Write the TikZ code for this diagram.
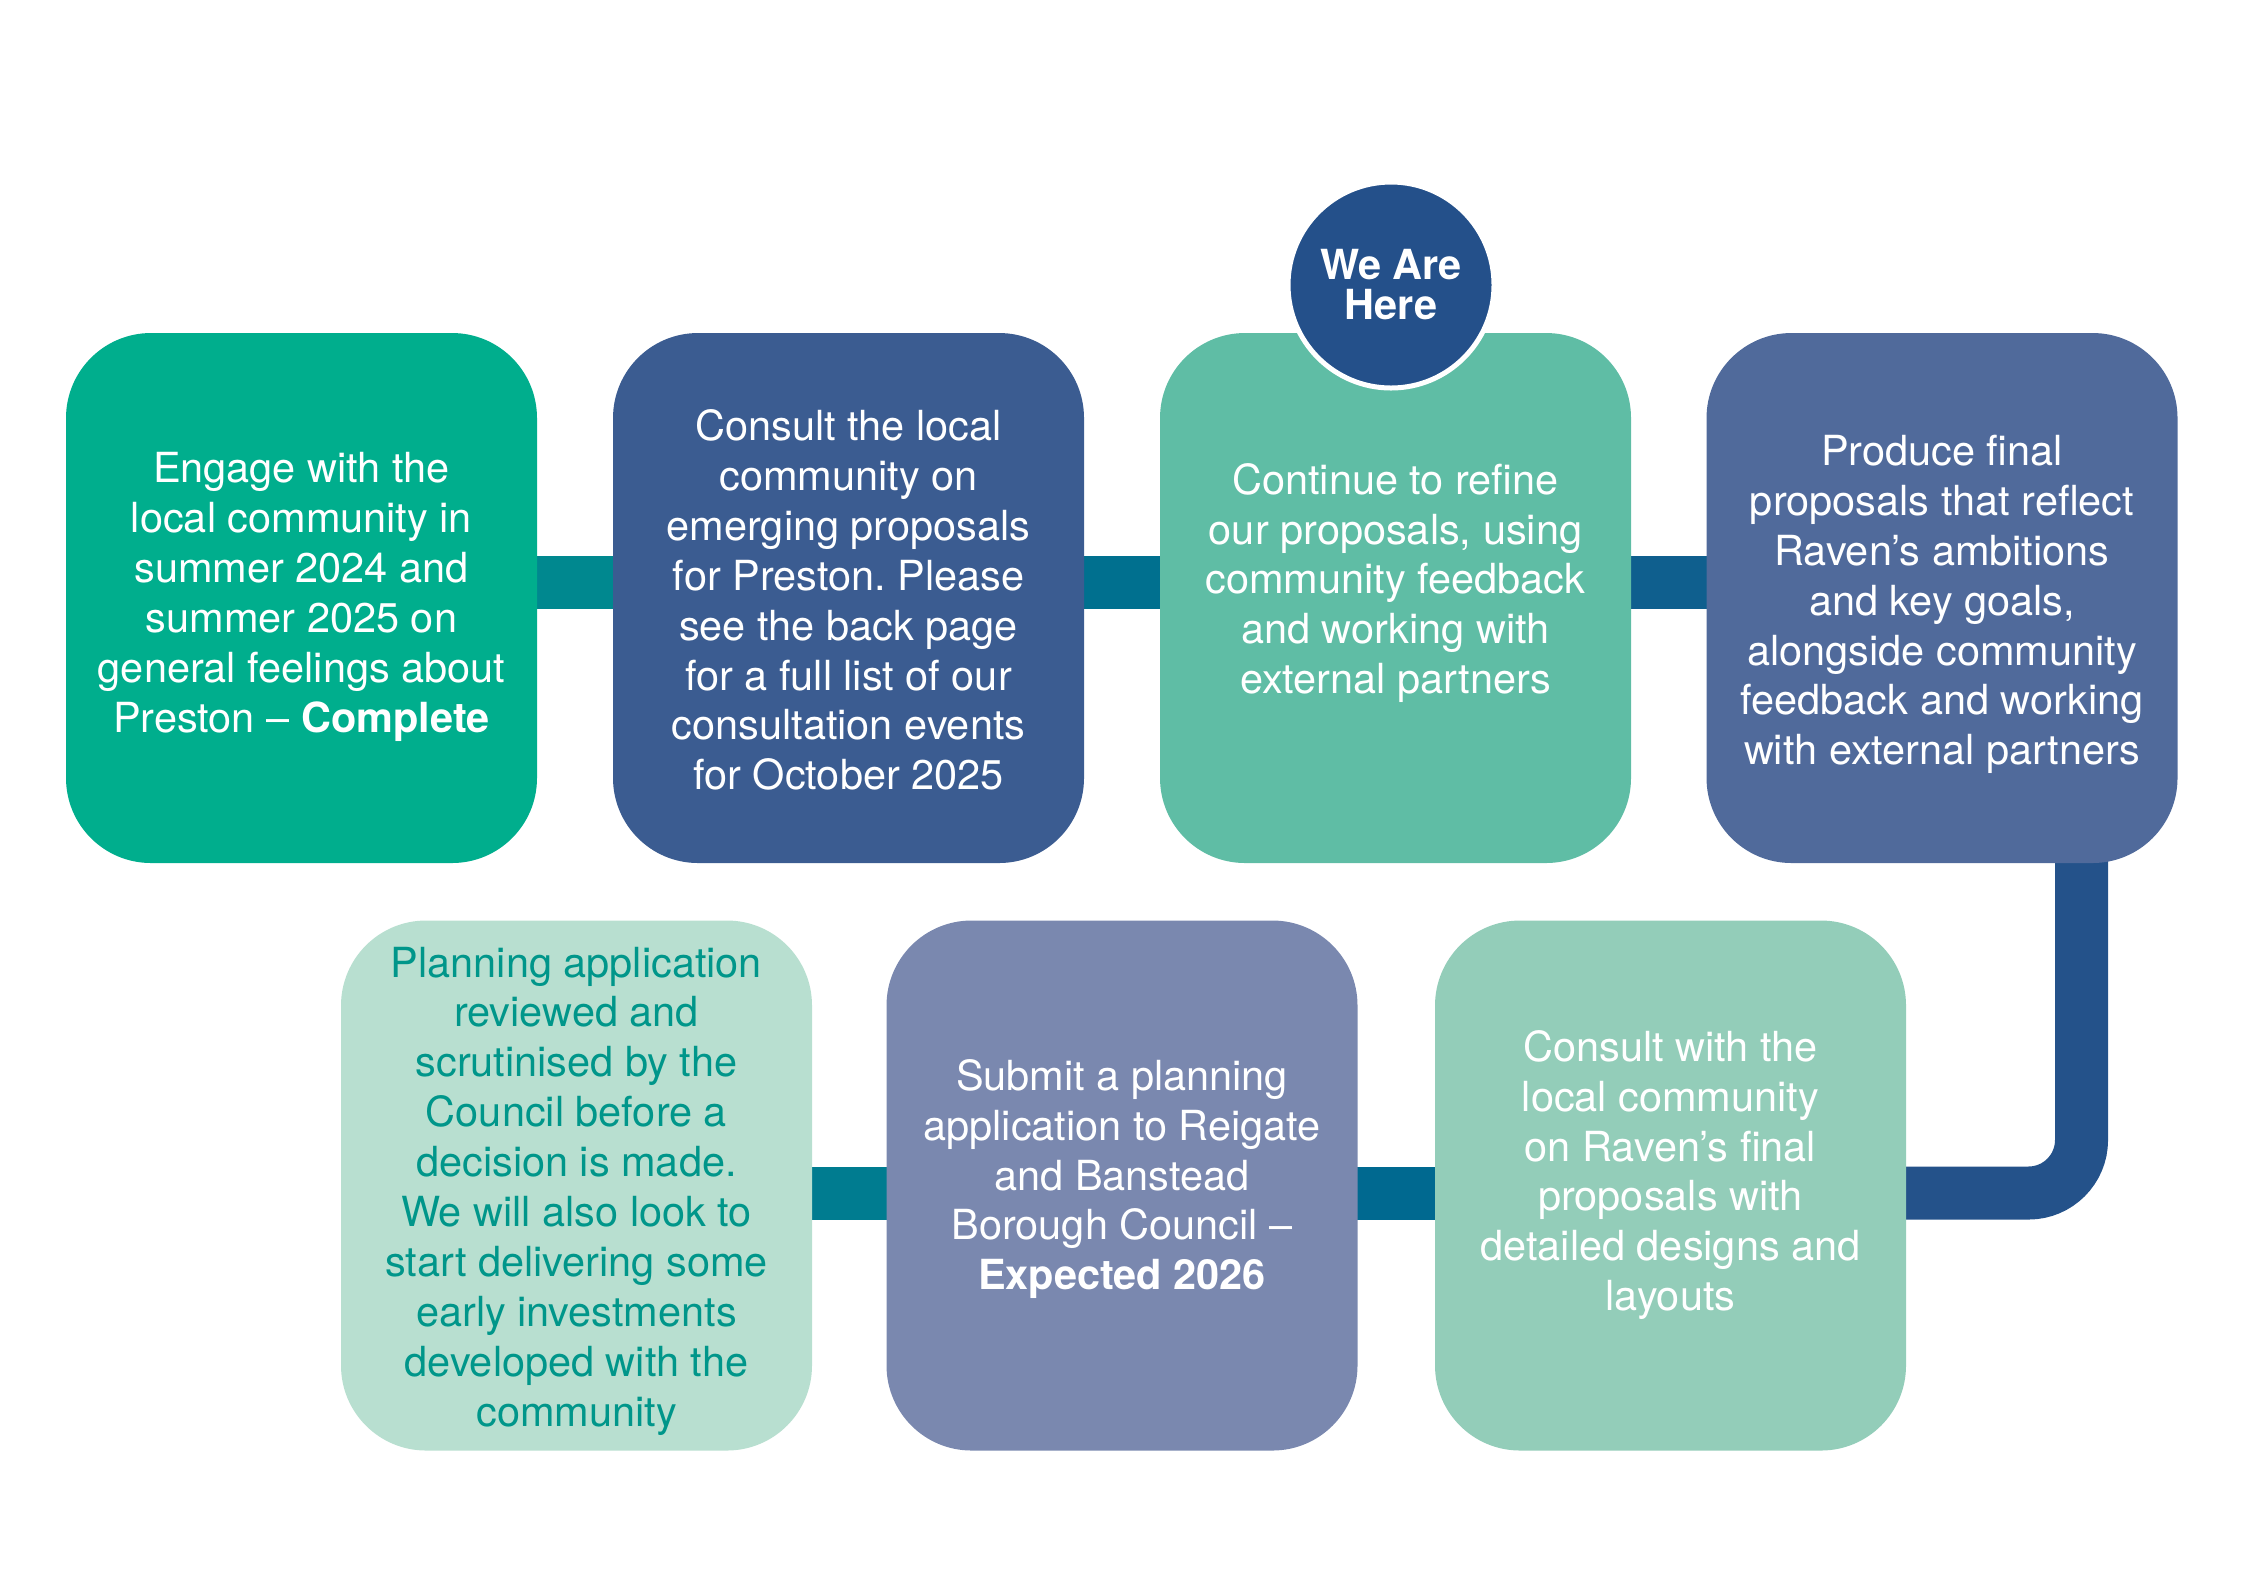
\documentclass[tikz,border=0pt]{standalone}
\usepackage{fontspec}
\setmainfont{TeX Gyre Heros}
\usetikzlibrary{positioning,backgrounds}
\frenchspacing

\definecolor{stepA}{HTML}{00AE8D}
\definecolor{stepB}{HTML}{3B5C91}
\definecolor{stepC}{HTML}{5FBDA5}
\definecolor{stepD}{HTML}{506A9B}
\definecolor{stepE}{HTML}{B8DFD0}
\definecolor{stepF}{HTML}{7A88AF}
\definecolor{stepG}{HTML}{93CDB9}
\definecolor{tealtxt}{HTML}{00968A}
\definecolor{herefill}{HTML}{24508A}
\definecolor{barAB}{HTML}{00888F}
\definecolor{barBC}{HTML}{00708F}
\definecolor{barCD}{HTML}{0F5F8E}
\definecolor{barEF}{HTML}{007C90}
\definecolor{barFG}{HTML}{006990}
\definecolor{barDG}{HTML}{24528A}

\begin{document}
\begin{tikzpicture}[x=0.1mm, y=-0.1mm,
  box/.style={rounded corners=8.5mm, minimum width=47.1mm,
              minimum height=53mm, inner sep=0pt},
  txt/.style={align=center, text=white, inner sep=0pt,
              font=\fontsize{11.8}{14.2}\selectfont},
  bar/.style={line width=5.3mm},
  here/.style={circle, fill=herefill, draw=white, line width=0.5mm,
               minimum size=20.6mm, inner sep=0pt, align=center, text=white,
               font=\bfseries\fontsize{11.8}{11.4}\selectfont},
]
\useasboundingbox (0,0) rectangle (2245,1588);

% --- top row ---
\node[box, fill=stepA] (b1) at (301.5,598) {};
\node[box, fill=stepB] (b2) at (848.5,598) {};
\node[box, fill=stepC] (b3) at (1395.5,598) {};
\node[box, fill=stepD] (b4) at (1942,598) {};

% --- bottom row ---
\node[box, fill=stepE] (b5) at (576.5,1185.5) {};
\node[box, fill=stepF] (b6) at (1122,1185.5) {};
\node[box, fill=stepG] (b7) at (1670.5,1185.5) {};

% --- texts ---
\node[txt, yshift=0.1mm] (t1) at (b1) {Engage with the\\local community in\\summer 2024 and\\summer 2025 on\\general feelings about\\Preston -- \textbf{Complete}};
\node[txt, yshift=-0.2mm] (t2) at (b2) {Consult the local\\community on\\emerging proposals\\for Preston. Please\\see the back page\\for a full list of our\\consultation events\\for October 2025};
\node[txt, yshift=1.5mm] (t3) at (b3) {Continue to refine\\our proposals, using\\community feedback\\and working with\\external partners};
\node[txt, yshift=-0.65mm] (t4) at (b4) {Produce final\\proposals that reflect\\Raven’s ambitions\\and key goals,\\alongside community\\feedback and working\\with external partners};
\node[txt, text=tealtxt, yshift=-0.55mm] (t5) at (b5) {Planning application\\reviewed and\\scrutinised by the\\Council before a\\decision is made.\\We will also look to\\start delivering some\\early investments\\developed with the\\community};
\node[txt, yshift=0.65mm] (t6) at (b6) {Submit a planning\\application to Reigate\\and Banstead\\Borough Council --\\\textbf{Expected 2026}};
\node[txt, yshift=1.05mm] (t7) at (b7) {Consult with the\\local community\\on Raven’s final\\proposals with\\detailed designs and\\layouts};

\node[here] (now) at (1391,285) {We Are\\Here};

% --- connectors ---
\begin{scope}[on background layer]
\draw[bar, barAB] ([yshift=1.55mm]b1.center) -- ([yshift=1.55mm]b2.center);
\draw[bar, barBC] ([yshift=1.55mm]b2.center) -- ([yshift=1.55mm]b3.center);
\draw[bar, barCD] ([yshift=1.55mm]b3.center) -- ([yshift=1.55mm]b4.center);
\draw[bar, barEF] ([yshift=-0.75mm]b5.center) -- ([yshift=-0.75mm]b6.center);
\draw[bar, barFG] ([yshift=-0.75mm]b6.center) -- ([yshift=-0.75mm]b7.center);
\draw[bar, barDG, rounded corners=5.3mm] ([xshift=13.95mm, yshift=5mm]b4.south) |- ([yshift=-0.75mm]b7.center);
\end{scope}
\end{tikzpicture}
\end{document}
